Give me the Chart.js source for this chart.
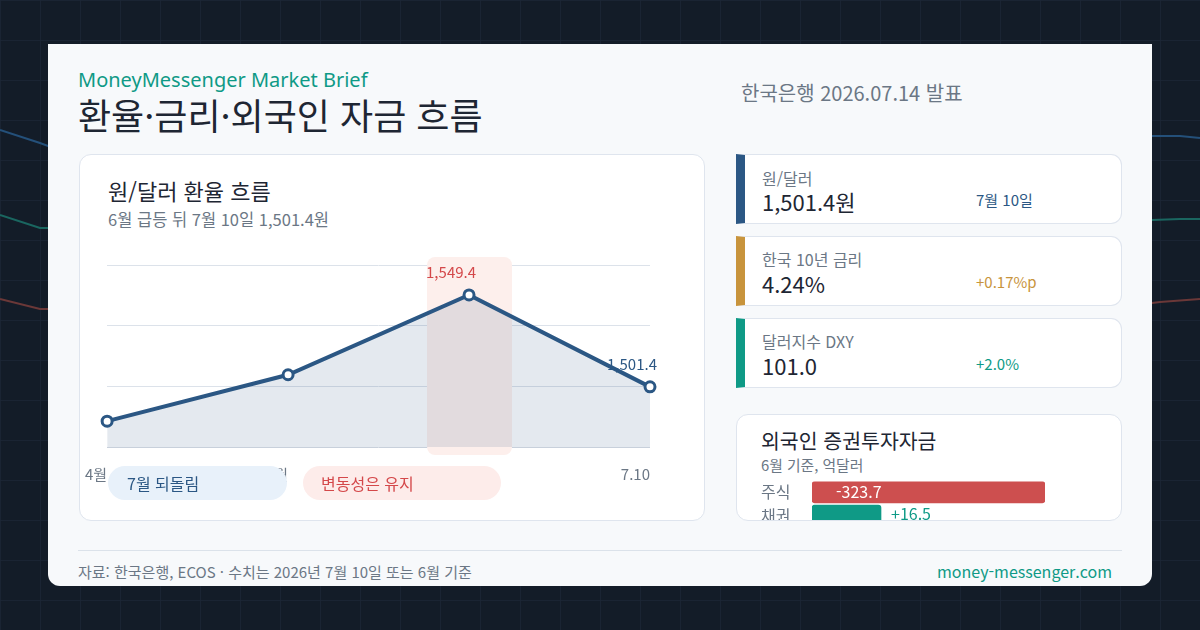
<!DOCTYPE html>
<html lang="ko">
<head>
<meta charset="UTF-8">
<title>환율·금리·외국인 자금 흐름</title>
<script src="https://cdn.jsdelivr.net/npm/chart.js"></script>
<style>
  * { box-sizing: border-box; margin: 0; padding: 0; }
  body { width: 1200px; height: 630px; overflow: hidden; background: #131c28; position: relative;
         font-family: "Noto Sans CJK KR", "Noto Sans", sans-serif; color: #1e2633; }
  .abs { position: absolute; white-space: nowrap; line-height: 1; }
  .sheet { position: absolute; left: 48px; top: 44px; width: 1104px; height: 542px; background: #f7f9fb; border-radius: 0 0 12px 12px; }
  .card { position: absolute; background: #fff; border: 1px solid #dfe5ee; border-radius: 12px; }
  .stat { position: absolute; left: 736px; width: 386px; height: 70px; background: #fff; border: 1px solid #dfe5ee; border-left-width: 9px; border-radius: 0 11px 11px 0; }
  .pill { position: absolute; top: 466px; height: 34px; border-radius: 17px; font-size: 16px; line-height: 34px; }
</style>
</head>
<body>
<svg id="bg" class="abs" width="1200" height="630" style="left:0;top:0">
  <defs>
    <pattern id="grid" width="40" height="40" patternUnits="userSpaceOnUse">
      <path d="M40 0 L0 0 0 40" fill="none" stroke="#1b2636" stroke-width="1.5"/>
    </pattern>
  </defs>
  <rect width="1200" height="630" fill="url(#grid)"/>
  <polyline points="0,130 40,143 48,146 1152,136 1180,136 1200,138" fill="none" stroke="#24507a" stroke-width="2"/>
  <polyline points="0,215 40,228 48,228 1152,220 1180,219 1200,219" fill="none" stroke="#1a6660" stroke-width="2"/>
  <polyline points="0,299 40,309 48,309 1152,303 1160,302 1200,299" fill="none" stroke="#6b3838" stroke-width="2"/>
</svg>

<div class="sheet"></div>

<!-- header -->
<div class="abs" style="left:78px;top:70px;font-size:20px;color:#0f9a86;font-family:'Noto Sans',sans-serif">MoneyMessenger Market Brief</div>
<div class="abs" style="left:78px;top:96px;font-size:36px;color:#1e2633">환율·금리·외국인 자금 흐름</div>
<div class="abs" style="left:741px;top:83px;font-size:20px;color:#6b7785">한국은행 2026.07.14 발표</div>

<!-- left chart card -->
<div class="card" style="left:79px;top:154px;width:626px;height:367px"></div>
<div class="abs" style="left:108px;top:179px;font-size:22px">원/달러 환율 흐름</div>
<div class="abs" style="left:108px;top:211px;font-size:16.5px;color:#6b7785">6월 급등 뒤 7월 10일 1,501.4원</div>
<canvas id="fx" class="abs" width="638" height="268" style="left:67px;top:240px"></canvas>
<div class="pill" style="left:108px;width:179px;background:#e8f1fa;color:#2b5784;padding-left:19px">7월 되돌림</div>
<div class="pill" style="left:303px;width:198px;background:#fdecea;color:#d4484a;padding-left:18px">변동성은 유지</div>

<!-- stat cards -->
<div class="stat" style="top:154px;border-left-color:#2b5784"></div>
<div class="abs" style="left:762px;top:170px;font-size:16px;color:#6b7785">원/달러</div>
<div class="abs" style="left:762px;top:190px;font-size:22px">1,501.4원</div>
<div class="abs" style="left:976px;top:192px;font-size:15px;color:#2b5784">7월 10일</div>

<div class="stat" style="top:236px;border-left-color:#c8943c"></div>
<div class="abs" style="left:762px;top:251px;font-size:16px;color:#6b7785">한국 10년 금리</div>
<div class="abs" style="left:762px;top:272px;font-size:22px">4.24%</div>
<div class="abs" style="left:976px;top:274px;font-size:15px;color:#c8943c">+0.17%p</div>

<div class="stat" style="top:318px;border-left-color:#0f9a86"></div>
<div class="abs" style="left:762px;top:333px;font-size:16px;color:#6b7785">달러지수 DXY</div>
<div class="abs" style="left:762px;top:354px;font-size:22px">101.0</div>
<div class="abs" style="left:976px;top:356px;font-size:15px;color:#0f9a86">+2.0%</div>

<!-- foreign flows card -->
<div class="card" style="left:736px;top:414px;width:386px;height:107px;overflow:hidden">
  <div class="abs" style="left:24px;top:15px;font-size:20.5px">외국인 증권투자자금</div>
  <div class="abs" style="left:24px;top:43px;font-size:14.8px;color:#6b7785">6월 기준, 억달러</div>
  <canvas id="flow" class="abs" width="284" height="66" style="left:24px;top:56px"></canvas>
</div>

<!-- footer -->
<div class="abs" style="left:78px;top:550px;width:1044px;height:1px;background:#dbe2ea"></div>
<div class="abs" style="left:78px;top:564px;font-size:15px;color:#6b7785">자료: 한국은행, ECOS · 수치는 2026년 7월 10일 또는 6월 기준</div>
<div class="abs" style="right:88px;top:563px;font-size:16px;color:#0f9a86">money-messenger.com</div>

<script>
  // 원/달러 환율 (월별 + 7월 10일)
  const months = ['4월', '5월', '6월', '7.10'];
  const usdkrw = [1483.5, 1507.7, 1549.4, 1501.4];
  const noteIdx = [2, 3];               // points that get a value label
  const noteColors = ['#d4484a', '#2b5784'];
  const highlightIdx = 2;               // 6월 급등 구간
  const yMin = 1470;
  const yMax = 1565;

  // 외국인 증권투자자금 (6월, 억달러)
  const flowCats = ['주식', '채권'];
  const flowVals = [-323.7, 16.5];

  const FONT = '"Noto Sans CJK KR", "Noto Sans", sans-serif';
  const BLUE = '#2b5784';

  const highlight = {
    id: 'highlight',
    beforeDatasetsDraw(chart) {
      const {ctx, chartArea} = chart;
      const x = chart.scales.x.getPixelForValue(highlightIdx);
      ctx.save();
      ctx.fillStyle = '#fdefec';
      ctx.beginPath();
      ctx.roundRect(x - 42, chartArea.top - 8, 85, chartArea.bottom - chartArea.top + 16, 8);
      ctx.fill();
      ctx.restore();
    }
  };

  const pointNotes = {
    id: 'pointNotes',
    afterDatasetsDraw(chart) {
      const {ctx} = chart;
      const pts = chart.getDatasetMeta(0).data;
      ctx.save();
      ctx.font = '15px ' + FONT;
      ctx.textAlign = 'right';
      ctx.textBaseline = 'middle';
      noteIdx.forEach((i, k) => {
        ctx.fillStyle = noteColors[k];
        ctx.fillText(usdkrw[i].toLocaleString('en-US', {minimumFractionDigits: 1}), pts[i].x + 7, pts[i].y - 23);
      });
      ctx.restore();
    }
  };

  new Chart(document.getElementById('fx'), {
    type: 'line',
    data: {
      labels: months,
      datasets: [{
        data: usdkrw,
        borderColor: BLUE,
        borderWidth: 4,
        backgroundColor: 'rgba(43, 87, 132, 0.13)',
        fill: 'start',
        tension: 0,
        pointRadius: 5,
        pointBorderWidth: 3,
        pointBackgroundColor: '#fff',
        pointBorderColor: BLUE
      }]
    },
    options: {
      responsive: false,
      animation: false,
      layout: { autoPadding: false, padding: { left: 17, right: 55, top: 25, bottom: 7 } },
      scales: {
        x: {
          grid: { display: false, drawTicks: false },
          border: { display: false },
          ticks: { align: 'end', padding: 18, color: '#6b7785', font: { family: FONT, size: 15 }, maxRotation: 0, autoSkip: false }
        },
        y: {
          min: yMin,
          max: yMax,
          ticks: { display: false, count: 4 },
          grid: { color: c => c.index === 0 ? '#c8d0db' : '#dce2ea', drawTicks: false },
          border: { display: false }
        }
      },
      plugins: { legend: { display: false }, tooltip: { enabled: false } }
    },
    plugins: [highlight, pointNotes]
  });

  const flowLabels = {
    id: 'flowLabels',
    afterDatasetsDraw(chart) {
      const {ctx} = chart;
      ctx.save();
      ctx.font = '16px ' + FONT;
      ctx.textBaseline = 'middle';
      chart.getDatasetMeta(0).data.forEach((bar, i) => {
        const v = flowVals[i];
        const txt = (v > 0 ? '+' : '') + v.toFixed(1);
        if (bar.width > 120) {
          ctx.fillStyle = '#fff';
          ctx.fillText(txt, bar.base + 24, bar.y);
        } else {
          ctx.fillStyle = '#0f9a86';
          ctx.fillText(txt, bar.x + 10, bar.y - 2);
        }
      });
      ctx.restore();
    }
  };

  new Chart(document.getElementById('flow'), {
    type: 'bar',
    data: {
      labels: flowCats,
      datasets: [{
        data: flowVals.map(Math.abs),
        backgroundColor: flowVals.map(v => v < 0 ? '#cd4f4f' : '#0f9a86'),
        barThickness: 21,
        borderRadius: 3,
        borderSkipped: false,
        minBarLength: 69
      }]
    },
    options: {
      indexAxis: 'y',
      responsive: false,
      animation: false,
      layout: { autoPadding: false, padding: 0 },
      scales: {
        x: { display: false, min: 0, max: Math.max(...flowVals.map(Math.abs)) },
        y: {
          grid: { display: false },
          border: { display: false },
          ticks: { crossAlign: 'far', padding: 0, color: '#6b7785', font: { family: FONT, size: 16 } },
          afterFit: s => { s.width = 51; }
        }
      },
      plugins: { legend: { display: false }, tooltip: { enabled: false } }
    },
    plugins: [flowLabels]
  });
</script>
</body>
</html>
